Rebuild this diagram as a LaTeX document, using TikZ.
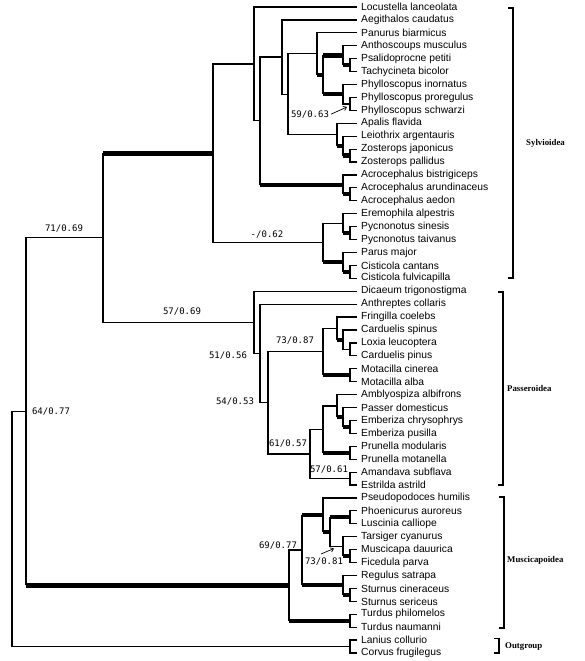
\documentclass[tikz,border=0pt]{standalone}
\usepackage{fontspec}
\setmainfont{Liberation Sans}
\newfontfamily\monof{DejaVu Sans Mono}
\newfontfamily\serf{Liberation Serif}
\usetikzlibrary{arrows.meta}
\tikzset{
  br/.style={line width=1.2pt},
  strong/.style={line width=4.3pt},
  leaf/.style={anchor=west, inner xsep=4pt, inner ysep=0pt, font=\fontsize{10.3}{12}\selectfont},
  supl/.style={font=\monof\fontsize{9}{10}\selectfont, inner sep=0pt},
  clade/.style={font=\serf\bfseries\fontsize{8.8}{10}\selectfont, anchor=west, inner sep=0pt},
  brk/.style={line width=1.1pt},
  arr/.style={line width=0.7pt, -{Straight Barb[length=3pt,width=4.5pt]}}
}
\newcommand\brn[2]{\draw[br] (#1) |- (#2);}
\newcommand\brs[2]{\draw[br] (#1) -- (#1 |- #2); \draw[strong] (#1 |- #2) -- (#2);}
\begin{document}
\begin{tikzpicture}[x=1pt,y=-1pt]
\useasboundingbox (0,0) rectangle (585,661);
% leaves
\foreach \nm [count=\i] in {Locustella lanceolata, Aegithalos caudatus, Panurus biarmicus, Anthoscoups musculus, Psalidoprocne petiti, Tachycineta bicolor, Phylloscopus inornatus, Phylloscopus proregulus, Phylloscopus schwarzi, Apalis flavida, Leiothrix argentauris, Zosterops japonicus, Zosterops pallidus, Acrocephalus bistrigiceps, Acrocephalus arundinaceus, Acrocephalus aedon, Eremophila alpestris, Pycnonotus sinesis, Pycnonotus taivanus, Parus major, Cisticola cantans, Cisticola fulvicapilla, Dicaeum trigonostigma, Anthreptes collaris, Fringilla coelebs, Carduelis spinus, Loxia leucoptera, Carduelis pinus, Motacilla cinerea, Motacilla alba, Amblyospiza albifrons, Passer domesticus, Emberiza chrysophrys, Emberiza pusilla, Prunella modularis, Prunella motanella, Amandava subflava, Estrilda astrild, Pseudopodoces humilis, Phoenicurus auroreus, Luscinia calliope, Tarsiger cyanurus, Muscicapa dauurica, Ficedula parva, Regulus satrapa, Sturnus cineraceus, Sturnus sericeus, Turdus philomelos, Turdus naumanni, Lanius collurio, Corvus frugilegus}
  \node[leaf] (L\i) at (357,{7+(\i-1)*12.92}) {\nm};
% internal nodes
\coordinate (Q1b) at (350,65.14);
\coordinate (Q1) at (343,55.45);
\coordinate (Q2b) at (350,103.90);
\coordinate (Q2) at (343,94.21);
\coordinate (P6) at (323,74.83);
\coordinate (P5) at (317,53.84);
\coordinate (Zo) at (350,155.58);
\coordinate (Le) at (343,145.89);
\coordinate (Ap) at (337,134.59);
\coordinate (P4) at (288,94.21);
\coordinate (P3) at (282,57.07);
\coordinate (Ac2) at (350,194.34);
\coordinate (Ac) at (343,184.65);
\coordinate (P2) at (260,120.86);
\coordinate (P1) at (254,63.93);
\coordinate (Py) at (350,233.10);
\coordinate (Er1) at (343,223.41);
\coordinate (Ci) at (350,271.86);
\coordinate (Par) at (343,262.17);
\coordinate (Er) at (323,242.79);
\coordinate (Sy) at (213,153.36);
\coordinate (Lx) at (350,349.38);
\coordinate (Cs) at (343,339.69);
\coordinate (Fr1) at (337,328.39);
\coordinate (Mo) at (350,375.22);
\coordinate (Fr) at (323,351.81);
\coordinate (Em) at (350,426.90);
\coordinate (Pd) at (343,417.21);
\coordinate (Am2) at (337,405.91);
\coordinate (Pr) at (350,452.74);
\coordinate (Am1) at (323,429.33);
\coordinate (Es) at (350,478.58);
\coordinate (Am) at (310,453.96);
\coordinate (Pa3) at (268,402.89);
\coordinate (Pa2) at (260,353.53);
\coordinate (Pa) at (254,322.39);
\coordinate (S) at (103,237.88);
\coordinate (Ph) at (350,517.34);
\coordinate (Mu) at (350,556.10);
\coordinate (Ta) at (343,546.41);
\coordinate (M3) at (330,531.88);
\coordinate (M2) at (323,514.92);
\coordinate (St) at (350,594.86);
\coordinate (Re) at (343,585.17);
\coordinate (M1) at (302,550.05);
\coordinate (Tu) at (350,620.70);
\coordinate (M) at (289,585.38);
\coordinate (I) at (26,411.63);
\coordinate (Og) at (350,646.54);
\coordinate (R) at (12,529.09);
% Sylvioidea
\brn{P1}{L1.west}
\brn{P1}{P2}
\brn{P2}{P3}
\brs{P2}{Ac}
\brn{P3}{L2.west}
\brn{P3}{P4}
\brn{P4}{P5}
\brn{P4}{Ap}
\brn{P5}{L3.west}
\brs{P5}{P6}
\brs{P6}{Q1}
\brs{P6}{Q2}
\brn{Q1}{L4.west}
\brs{Q1}{Q1b}
\brn{Q1b}{L5.west}
\brn{Q1b}{L6.west}
\brn{Q2}{L7.west}
\brn{Q2}{Q2b}
\brn{Q2b}{L8.west}
\brn{Q2b}{L9.west}
\brn{Ap}{L10.west}
\brs{Ap}{Le}
\brn{Le}{L11.west}
\brs{Le}{Zo}
\brn{Zo}{L12.west}
\brn{Zo}{L13.west}
\brn{Ac}{L14.west}
\brs{Ac}{Ac2}
\brn{Ac2}{L15.west}
\brn{Ac2}{L16.west}
\brn{Sy}{P1}
\brn{Sy}{Er}
\brn{Er}{Er1}
\brs{Er}{Par}
\brn{Er1}{L17.west}
\brs{Er1}{Py}
\brn{Py}{L18.west}
\brn{Py}{L19.west}
\brn{Par}{L20.west}
\brs{Par}{Ci}
\brn{Ci}{L21.west}
\brn{Ci}{L22.west}
% Passeroidea
\brn{Pa}{L23.west}
\brn{Pa}{Pa2}
\brn{Pa2}{L24.west}
\brn{Pa2}{Pa3}
\brn{Pa3}{Fr}
\brn{Pa3}{Am}
\brn{Fr}{Fr1}
\brs{Fr}{Mo}
\brn{Fr1}{L25.west}
\brs{Fr1}{Cs}
\brn{Cs}{L26.west}
\brn{Cs}{Lx}
\brn{Lx}{L27.west}
\brn{Lx}{L28.west}
\brn{Mo}{L29.west}
\brn{Mo}{L30.west}
\brn{Am}{Am1}
\brn{Am}{Es}
\brn{Am1}{Am2}
\brs{Am1}{Pr}
\brn{Am2}{L31.west}
\brs{Am2}{Pd}
\brn{Pd}{L32.west}
\brs{Pd}{Em}
\brn{Em}{L33.west}
\brn{Em}{L34.west}
\brn{Pr}{L35.west}
\brn{Pr}{L36.west}
\brn{Es}{L37.west}
\brn{Es}{L38.west}
% Muscicapoidea
\brn{M}{M1}
\brs{M}{Tu}
\brs{M1}{M2}
\brs{M1}{Re}
\brn{M2}{L39.west}
\brs{M2}{M3}
\brs{M3}{Ph}
\brn{M3}{Ta}
\brn{Ph}{L40.west}
\brn{Ph}{L41.west}
\brn{Ta}{L42.west}
\brs{Ta}{Mu}
\brn{Mu}{L43.west}
\brn{Mu}{L44.west}
\brn{Re}{L45.west}
\brs{Re}{St}
\brn{St}{L46.west}
\brn{St}{L47.west}
\brn{Tu}{L48.west}
\brn{Tu}{L49.west}
% outgroup and backbone
\brn{Og}{L50.west}
\brn{Og}{L51.west}
\brs{S}{Sy}
\brn{S}{Pa}
\brn{I}{S}
\brs{I}{M}
\brn{R}{I}
\brn{R}{Og}
% support values
\node[supl] (s1) at (64,229) {71/0.69};
\node[supl] (s2) at (51,412) {64/0.77};
\node[supl] (s3) at (182,312) {57/0.69};
\node[supl] (s4) at (267,235) {-/0.62};
\node[supl] (s5) at (228,356) {51/0.56};
\node[supl] (s6) at (235,402) {54/0.53};
\node[supl] (s7) at (295,341) {73/0.87};
\node[supl] (s8) at (288,444) {61/0.57};
\node[supl] (s9) at (329,470) {57/0.61};
\node[supl] (s10) at (278,546) {69/0.77};
\node[supl] (s11) at (324,562) {73/0.81};
\node[supl] (s12) at (310,115) {59/0.63};
\coordinate (a1) at (347,107);
\draw[arr, shorten <=2pt] (s12.east) -- (a1);
\coordinate (a2s) at (321,554);
\coordinate (a2e) at (334,548.5);
\draw[arr] (a2s) -- (a2e);
% clade brackets
\draw[brk] (508,8) -- (513,8) -- (513,278) -- (508,278);
\draw[brk] (498,292) -- (503,292) -- (503,485) -- (498,485);
\draw[brk] (499,497) -- (504,497) -- (504,628) -- (499,628);
\draw[brk] (494,638.5) -- (499,638.5) -- (499,653) -- (494,653);
\node[clade] (c1) at (526,143.3) {Sylvioidea};
\node[clade] (c2) at (507,388.3) {Passeroidea};
\node[clade] (c3) at (507,560) {Muscicapoidea};
\node[clade] (c4) at (505,646.7) {Outgroup};
\end{tikzpicture}
\end{document}
